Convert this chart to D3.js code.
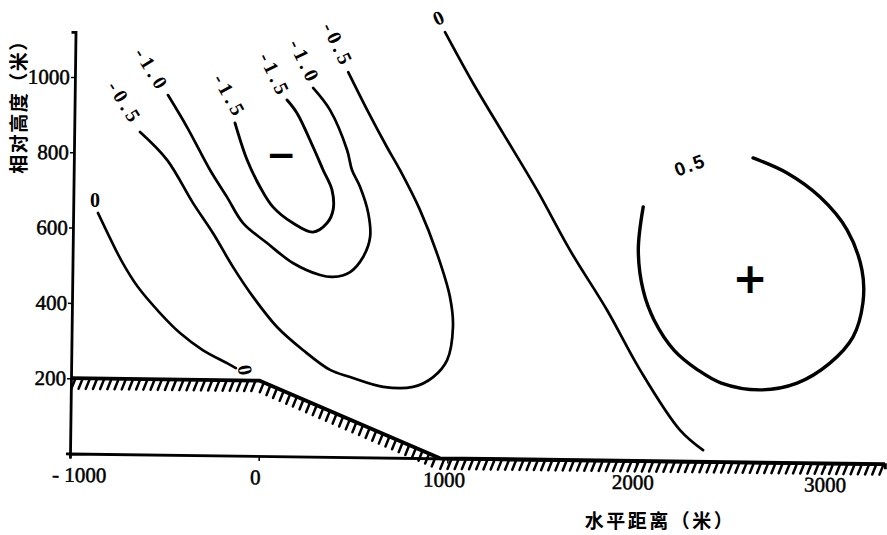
<!DOCTYPE html>
<html><head><meta charset="utf-8">
<script src="https://cdn.jsdelivr.net/npm/d3@7"></script>
<style>
html,body{margin:0;padding:0;background:#fff;}
svg{display:block;}
</style></head>
<body>
<svg id="chart" width="887" height="535"></svg>
<script>
// ---- data (metres) ----
const xTicks = [-1000, 0, 1000, 2000, 3000];
const xTickLabels = ["- 1000", "0", "1000", "2000", "3000"];
const yTicks = [200, 400, 600, 800, 1000];
const yTickLabels = ["200", "400", "600", "800", "1000"];
const xTitle = "水平距离（米）";
const yTitle = "相对高度（米）";

const ground = [[-1000, 200], [0, 200], [960, 0], [3318, 0]];

const contourZeroLeft = [[-852,639],[-788,572],[-724,509],[-640,442],[-523,373],[-417,320],[-295,274],[-168,240],[-121,227]];
const contourMinus05 = [[-629,854],[-486,780],[-348,665],[-242,585],[-136,495],[-30,416],[97,336],[234,275],[378,222],[484,203],[659,177],[818,177],[924,203],[998,248],[1029,336],[1013,416],[944,532],[854,647],[748,753],[679,814],[575,912],[474,1013]];
const contourMinus10 = [[-481,952],[-380,867],[-258,753],[-168,681],[-83,612],[44,559],[181,506],[325,474],[394,469],[484,482],[553,522],[590,575],[580,639],[537,708],[494,753],[468,806],[378,912],[288,971]];
const contourMinus15 = [[-126,878],[-62,780],[7,708],[75,655],[181,612],[287,588],[362,612],[394,647],[388,700],[341,753],[288,814],[203,904],[150,939]];
const contourZeroRight = [[987,1119],[1135,984],[1294,851],[1474,700],[1649,540],[1845,381],[2020,222],[2232,62],[2354,9]];
const contourPlus05 = [[2619,785],[2799,745],[2974,681],[3117,594],[3196,487],[3201,400],[3148,309],[3026,240],[2852,187],[2656,169],[2451,187],[2329,221],[2201,274],[2095,354],[2037,433],[2011,540],[2037,655]];

const contourLabels = [
  {text:"0",    x:-867, y:673,  angle:0},
  {text:"0",    x:-72,  y:222,  angle:80},
  {text:"-0.5", x:-708, y:931,  angle:58},
  {text:"-1.0", x:-565, y:1019, angle:58},
  {text:"-1.5", x:-152, y:949,  angle:61},
  {text:"-1.5", x:86,   y:1005, angle:64},
  {text:"-1.0", x:245,  y:1040, angle:64},
  {text:"-0.5", x:421,  y:1085, angle:64},
  {text:"0",    x:951,  y:1157, angle:-25}
];
const signLabels = [
  {text:"−", x:118,  y:793},
  {text:"+", x:2603, y:466}
];
const posLabel = {text:"0.5", x:2286, y:766, angle:-20};

// ---- drawing ----
const svg = d3.select("#chart");
const x = d3.scaleLinear().domain([-1000, 3318]).range([70, 885]);
const y = d3.scaleLinear().domain([0, 1120]).range([453.5, 31.8]);

const serif = "'Liberation Serif','DejaVu Serif',serif";

// frame (axes + ground), slightly skewed like the scanned original
const frame = svg.append("g")
  .attr("transform", `rotate(0.75, ${x(-1000)}, ${y(0)})`);

const xAxis = d3.axisBottom(x).tickValues(xTicks)
  .tickFormat((d,i)=>xTickLabels[i]).tickSize(5).tickPadding(8.5);
const gx = frame.append("g").attr("transform", `translate(0,${y(0)})`).call(xAxis);
gx.select(".domain").attr("stroke","#000").attr("stroke-width",2.8);
gx.selectAll(".tick line").attr("stroke","#000").attr("stroke-width",1.5);
gx.selectAll(".tick text").attr("font-family",serif).attr("font-size",21)
  .attr("fill","#000").attr("stroke","#000").attr("stroke-width",0.5)
  .attr("dx",(d)=> d===-1000 ? 9 : (d===3000 ? 0 : -3.5));

const yAxis = d3.axisLeft(y).tickValues(yTicks)
  .tickFormat((d,i)=>yTickLabels[i]).tickSize(4).tickPadding(1);
const gy = frame.append("g").attr("transform", `translate(${x(-1000)},0)`).call(yAxis);
gy.select(".domain").attr("stroke","#000").attr("stroke-width",2.8);
gy.selectAll(".tick line").attr("stroke","#000").attr("stroke-width",1.5);
gy.selectAll(".tick text").attr("font-family",serif).attr("font-size",21)
  .attr("fill","#000").attr("stroke","#000").attr("stroke-width",0.5);

// ground with hatching
const gpx = ground.map(d=>[x(d[0]), y(d[1])]);
frame.append("path").attr("d", d3.line()(gpx)).attr("fill","none")
  .attr("stroke","#000").attr("stroke-width",3.8).attr("stroke-linejoin","round");
const hatch = [];
const step = 7.2;
for (let i=0;i<gpx.length-1;i++){
  const [x0,y0]=gpx[i],[x1,y1]=gpx[i+1];
  const len=Math.hypot(x1-x0,y1-y0);
  for(let s=3;s<len;s+=step){
    const t=s/len, px=x0+(x1-x0)*t, py=y0+(y1-y0)*t;
    hatch.push([[px+1,py+1.5],[px-2.5,py+10.5]]);
  }
}
frame.append("g").selectAll("path").data(hatch).join("path")
  .attr("d", d=>d3.line()(d)).attr("stroke","#000").attr("stroke-width",2.5)
  .attr("stroke-linecap","round");

// axis titles
svg.append("text").attr("x", 660).attr("y", 519.5).attr("text-anchor","middle")
  .attr("dominant-baseline","central")
  .attr("font-family","'Noto Sans CJK SC',sans-serif").attr("font-weight",700)
  .attr("font-size",19).attr("letter-spacing",2.5).attr("fill","#000").text(xTitle);
svg.append("text").attr("transform","translate(17.5,102) rotate(-90)").attr("text-anchor","middle")
  .attr("dominant-baseline","central")
  .attr("font-family","'Noto Sans CJK SC',sans-serif").attr("font-weight",700)
  .attr("font-size",19).attr("letter-spacing",1.5).attr("fill","#000").text(yTitle);

// contours
const line = d3.line().x(d=>x(d[0])).y(d=>y(d[1])).curve(d3.curveCatmullRom.alpha(0.5));
const contours = [
  [contourZeroLeft, 2.6],[contourMinus05, 2.7],[contourMinus10, 2.7],
  [contourMinus15, 2.9],[contourZeroRight, 2.7],[contourPlus05, 3.4]
];
svg.append("g").selectAll("path").data(contours).join("path")
  .attr("d", d=>line(d[0])).attr("fill","none").attr("stroke","#000")
  .attr("stroke-width", d=>d[1]).attr("stroke-linecap","round");

// contour labels
svg.append("g").selectAll("text").data(contourLabels).join("text")
  .attr("transform", d=>`translate(${x(d.x)},${y(d.y)}) rotate(${d.angle})`)
  .attr("text-anchor","middle").attr("dominant-baseline","central")
  .attr("font-family",serif).attr("font-size",20).attr("font-weight",700)
  .attr("letter-spacing", d=>d.text.length>1 ? 4 : 0)
  .attr("fill","#000").text(d=>d.text);

svg.append("text")
  .attr("transform", `translate(${x(posLabel.x)},${y(posLabel.y)}) rotate(${posLabel.angle})`)
  .attr("text-anchor","middle").attr("dominant-baseline","central")
  .attr("font-family","'Liberation Sans',Arial,sans-serif").attr("font-size",19).attr("font-weight",700)
  .attr("letter-spacing",2).attr("fill","#000").text(posLabel.text);

svg.append("g").selectAll("text").data(signLabels).join("text")
  .attr("x", d=>x(d.x)).attr("y", d=>y(d.y))
  .attr("text-anchor","middle").attr("dominant-baseline","central")
  .attr("font-family","'DejaVu Sans',sans-serif").attr("font-weight",700)
  .attr("font-size", d=>d.text==="+"?42:36).attr("fill","#000").text(d=>d.text);
</script>
</body></html>
